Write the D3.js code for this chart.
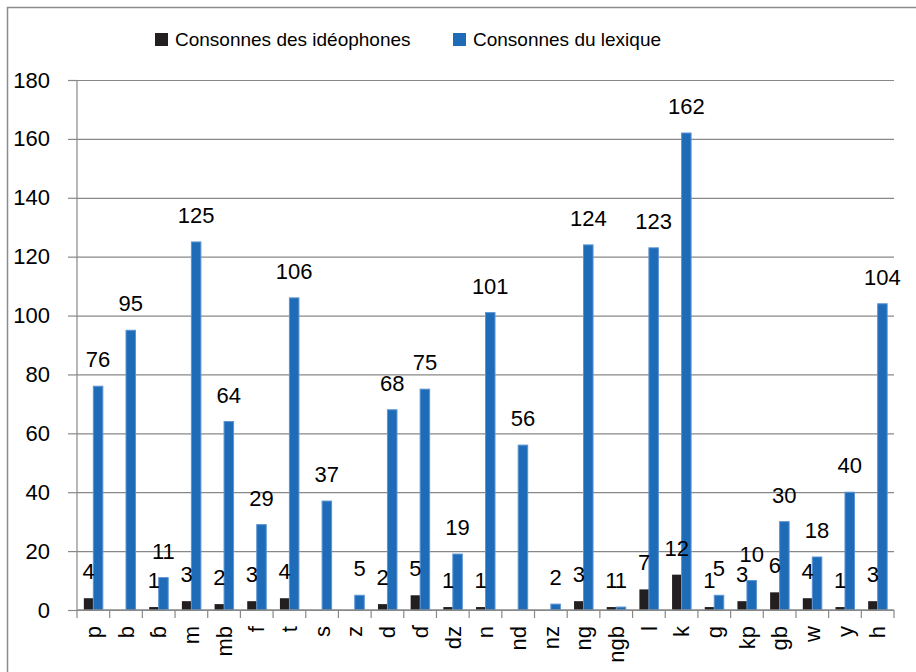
<!DOCTYPE html>
<html>
<head>
<meta charset="utf-8">
<script src="https://cdn.jsdelivr.net/npm/d3@7"></script>
<style>
  body { margin: 0; background: #fff; }
  text { font-family: "Liberation Sans", Arial, sans-serif; fill: #000; }
</style>
</head>
<body>
<div class="chart"></div>
<script>
// data
const consonants = ['p', 'b', 'ɓ', 'm', 'mb', 'f', 't', 's', 'z', 'd', 'ɗ', 'dz', 'n', 'nd', 'nz', 'ng', 'ngb', 'l', 'k', 'g', 'kp', 'gb', 'w', 'y', 'h'];
const ideophones = [4, null, 1, 3, 2, 3, 4, null, null, 2, 5, 1, 1, null, null, 3, 1, 7, 12, 1, 3, 6, 4, 1, 3];
const lexique = [76, 95, 11, 125, 64, 29, 106, 37, 5, 68, 75, 19, 101, 56, 2, 124, 1, 123, 162, 5, 10, 30, 18, 40, 104];
const seriesNames = ['Consonnes des idéophones', 'Consonnes du lexique'];
const yTicks = [0, 20, 40, 60, 80, 100, 120, 140, 160, 180];

const width = 916, height = 672;
const plot = {left: 77, right: 894, top: 80, bottom: 610};
const colors = ['#231f20', '#1e6bb8'];
const gridColor = '#888888';

const svg = d3.select('.chart').append('svg')
  .attr('width', width)
  .attr('height', height);

// outer frame (cut by the picture on the right and bottom)
svg.append('rect')
  .attr('x', 7.5).attr('y', 7.5)
  .attr('width', width + 20).attr('height', height + 20)
  .attr('fill', 'none')
  .attr('stroke', '#8c8c8c')
  .attr('stroke-width', 1.5);

const x = d3.scaleBand()
  .domain(consonants)
  .range([plot.left, plot.right]);

const groupWidth = 19;
const x1 = d3.scaleBand()
  .domain(seriesNames)
  .range([(x.bandwidth() - groupWidth) / 2, (x.bandwidth() + groupWidth) / 2]);

const y = d3.scaleLinear()
  .domain([0, 180])
  .range([plot.bottom, plot.top]);

// gridlines + y axis
const yAxis = d3.axisLeft(y)
  .tickValues(yTicks)
  .tickSize(-(plot.right - plot.left))
  .tickFormat('');
const gy = svg.append('g')
  .attr('transform', 'translate(' + plot.left + ',0)')
  .call(yAxis);
gy.select('.domain').remove();
gy.selectAll('.tick line').attr('stroke', gridColor).attr('stroke-width', 1.2);

const yAxisTicks = d3.axisLeft(y)
  .tickValues(yTicks)
  .tickSize(9)
  .tickPadding(18);
const gy2 = svg.append('g')
  .attr('transform', 'translate(' + plot.left + ',0)')
  .call(yAxisTicks);
gy2.select('.domain').attr('stroke', gridColor).attr('stroke-width', 1.2).attr('d', 'M0,' + plot.top + 'V' + plot.bottom);
gy2.selectAll('.tick line').attr('stroke', gridColor).attr('stroke-width', 1.2);
gy2.selectAll('.tick text')
  .attr('font-size', '22px')
  .attr('font-family', '"Liberation Sans", Arial, sans-serif')
  .attr('fill', '#000');

// bars
const rows = consonants.map((c, i) => ({c: c, vals: [ideophones[i], lexique[i]]}));

const groups = svg.append('g').selectAll('g')
  .data(rows)
  .join('g')
  .attr('transform', d => 'translate(' + x(d.c) + ',0)');

groups.selectAll('rect')
  .data(d => d.vals.map((v, k) => ({s: seriesNames[k], v: v, k: k})).filter(e => e.v != null))
  .join('rect')
  .attr('x', e => x1(e.s))
  .attr('width', x1.bandwidth())
  .attr('y', e => y(e.v))
  .attr('height', e => y(0) - y(e.v))
  .attr('fill', e => colors[e.k])
  .attr('stroke', e => e.k === 1 ? '#5b93d3' : 'none')
  .attr('stroke-width', 1);

// value labels
groups.selectAll('text')
  .data(d => d.vals.map((v, k) => ({s: seriesNames[k], v: v, k: k})).filter(e => e.v != null))
  .join('text')
  .attr('x', e => x1(e.s) + x1.bandwidth() / 2)
  .attr('y', e => y(e.v) - 19)
  .attr('text-anchor', 'middle')
  .attr('font-size', '22px')
  .text(e => e.v);

// x axis
const xAxis = d3.axisBottom(x).tickSize(0).tickFormat('');
const gx = svg.append('g')
  .attr('transform', 'translate(0,' + plot.bottom + ')')
  .call(xAxis);
gx.select('.domain').attr('stroke', gridColor).attr('stroke-width', 1.5).attr('d', 'M' + plot.left + ',0H' + plot.right);

svg.append('g').selectAll('line')
  .data(consonants.concat(['end']))
  .join('line')
  .attr('x1', (d, i) => plot.left + i * x.bandwidth())
  .attr('x2', (d, i) => plot.left + i * x.bandwidth())
  .attr('y1', plot.bottom)
  .attr('y2', plot.bottom + 8)
  .attr('stroke', gridColor)
  .attr('stroke-width', 1.2);

svg.append('g').selectAll('text')
  .data(consonants)
  .join('text')
  .attr('transform', d => 'translate(' + (x(d) + x.bandwidth() / 2) + ',' + (plot.bottom + 16) + ') rotate(-90)')
  .attr('text-anchor', 'end')
  .attr('dy', '0.35em')
  .attr('font-size', '22px')
  .text(d => d);

// legend
const legendItems = [
  {name: seriesNames[0], color: colors[0], x: 155},
  {name: seriesNames[1], color: colors[1], x: 453}
];
const legend = svg.append('g');
legendItems.forEach(function (item) {
  legend.append('rect')
    .attr('x', item.x)
    .attr('y', 33)
    .attr('width', 13)
    .attr('height', 13)
    .attr('fill', item.color);
  legend.append('text')
    .attr('x', item.x + 20)
    .attr('y', 46)
    .attr('font-size', '19px')
    .text(item.name);
});
</script>
</body>
</html>
